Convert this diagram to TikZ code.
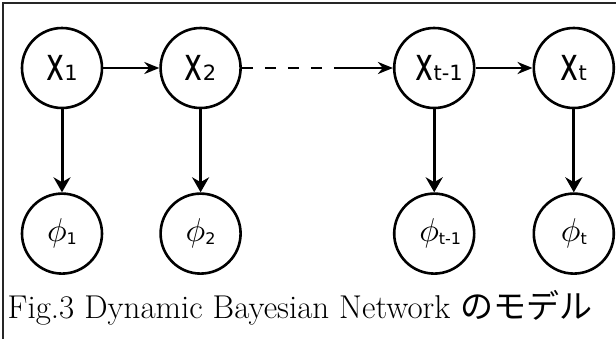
\documentclass[tikz,border=0pt]{standalone}
\usepackage{fontspec}
\usepackage{graphicx}
\usetikzlibrary{positioning, arrows.meta}
\newfontfamily\nodefont{DejaVu Sans}
\newfontfamily\jpfont{Noto Sans CJK JP}
% state label: big narrow x with an upright index
\newcommand{\xlbl}[1]{{\nodefont\scalebox{0.66}[1]{\fontsize{46}{46}\selectfont x}\fontsize{21}{21}\selectfont #1}}
\newcommand{\philbl}[1]{{\scalebox{3.3}{$\phi$}\nodefont\fontsize{16}{16}\selectfont\raisebox{-3pt}{#1}}}

\begin{document}
\begin{tikzpicture}[x=1pt, y=-1pt, node distance=83pt,
    var/.style={draw, circle, line width=2.6pt, minimum size=80pt, inner sep=0pt},
    link/.style={line width=2.6pt, -{Stealth[length=15pt, width=12pt]}},
    down/.style={line width=3pt, -{Stealth[length=15pt, width=17pt]}}]
    \useasboundingbox (0,0) rectangle (616,338);
    \draw[line width=2.4pt, black!85] (3,3) rectangle (640,360);

    \node[var]  (x1)   at (62,68)  {\xlbl{1}};
    \node[var, right=56pt of x1]  (x2)  {\xlbl{2}};
    \node[var, right=151pt of x2]  (xt1)  {\hspace{10pt}\xlbl{t-1}};
    \node[var, right=57pt of xt1]  (xt)  {\xlbl{t}};
    \node[var, below=of x1]  (p1)  {\philbl{1}};
    \node[var, below=of x2]  (p2)  {\philbl{2}};
    \node[var, below=of xt1]  (pt1)  {\hspace{12pt}\philbl{t-1}};
    \node[var, below=of xt]  (pt)  {\philbl{t}};
    \coordinate[left=56pt of xt1] (gap);

    \draw[link] (x1) -- (x2);
    \draw[line width=2.6pt, dash pattern=on 11pt off 12pt] (x2) -- (gap);
    \draw[link] (gap) -- (xt1);
    \draw[link] (xt1) -- (xt);
    \foreach \a/\b in {x1/p1, x2/p2, xt1/pt1, xt/pt}
        \draw[down] (\a) -- (\b);

    \node (cap) at (300,308) {\fontsize{33}{33}\selectfont Fig.3 Dynamic Bayesian Network {\jpfont のモデル}};
\end{tikzpicture}
\end{document}
